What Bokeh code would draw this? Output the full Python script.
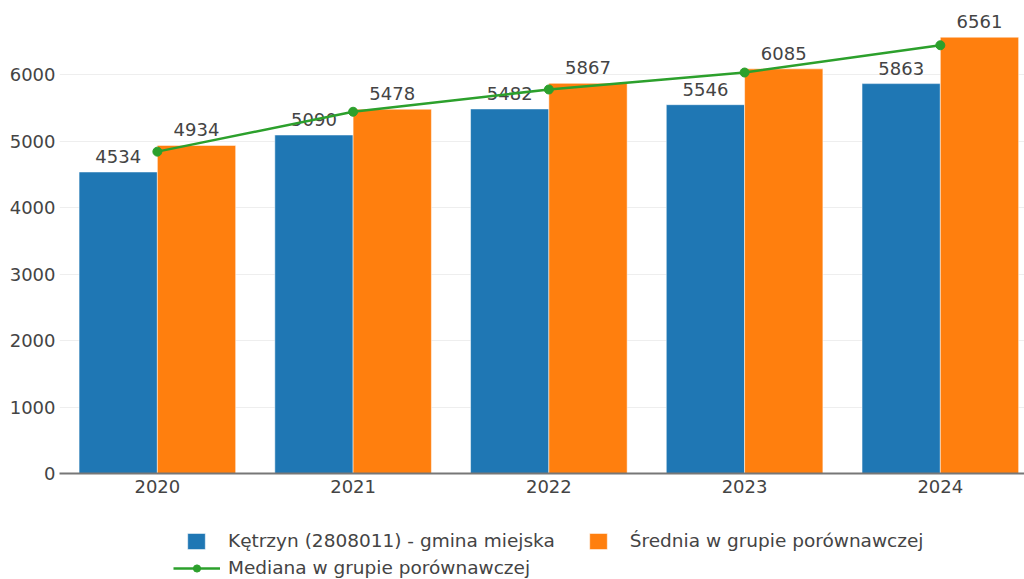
from bokeh.plotting import figure
from bokeh.models import ColumnDataSource, Range1d, FixedTicker, Legend, LegendItem
from bokeh.layouts import column
from bokeh.transform import dodge
from bokeh.core.properties import value
from bokeh.embed import file_html
from bokeh.resources import INLINE

years = [2020, 2021, 2022, 2023, 2024]
ketrzyn = [4534, 5090, 5482, 5546, 5863]
srednia = [4934, 5478, 5867, 6085, 6561]
mediana = [4840, 5440, 5775, 6030, 6440]
y_ticks = [0, 1000, 2000, 3000, 4000, 5000, 6000]
names = ["Kętrzyn (2808011) - gmina miejska", "Średnia w grupie porównawczej",
         "Mediana w grupie porównawczej"]

FONT = "DejaVu Sans"
TXT = "#444444"
BLUE, ORANGE, GREEN = "#1f77b4", "#ff7f0e", "#2ca02c"

src = ColumnDataSource(dict(
    year=years, ketrzyn=ketrzyn, srednia=srednia, mediana=mediana,
    kl=[str(v) for v in ketrzyn], sl=[str(v) for v in srednia],
))

p = figure(width=1024, height=503, output_backend="svg", toolbar_location=None,
           x_range=Range1d(2019.5, 2024.43), y_range=Range1d(0, 7113),
           min_border_left=59, min_border_right=0, min_border_top=0, min_border_bottom=30)
p.outline_line_color = None

p.vbar(x=dodge("year", -0.2, range=p.x_range), top="ketrzyn", width=0.4, source=src,
       fill_color=BLUE, line_color="white", line_width=0.5)
p.vbar(x=dodge("year", 0.2, range=p.x_range), top="srednia", width=0.4, source=src,
       fill_color=ORANGE, line_color="white", line_width=0.5)

p.text(x=dodge("year", -0.2, range=p.x_range), y="ketrzyn", text="kl", source=src,
       text_align="center", text_baseline="bottom", y_offset=-9,
       text_font=value(FONT), text_font_size="18px", text_color=TXT)
p.text(x=dodge("year", 0.2, range=p.x_range), y="srednia", text="sl", source=src,
       text_align="center", text_baseline="bottom", y_offset=-9,
       text_font=value(FONT), text_font_size="18px", text_color=TXT)

p.line(x="year", y="mediana", source=src, line_color=GREEN, line_width=2.5)
p.scatter(x="year", y="mediana", source=src, size=9, fill_color=GREEN, line_color=GREEN)

p.xgrid.visible = False
p.ygrid.grid_line_color = "#eeeeee"
p.ygrid.ticker = FixedTicker(ticks=y_ticks)

p.yaxis.ticker = FixedTicker(ticks=y_ticks)
p.yaxis.axis_line_color = None
p.yaxis.major_tick_line_color = None
p.yaxis.minor_tick_line_color = None
p.yaxis.major_tick_out = 0
p.yaxis.major_label_standoff = 4
p.yaxis.major_label_text_font = FONT
p.yaxis.major_label_text_font_size = "18px"
p.yaxis.major_label_text_color = TXT

p.xaxis.ticker = FixedTicker(ticks=years)
p.xaxis.axis_line_color = "#777777"
p.xaxis.axis_line_width = 2
p.xaxis.major_tick_line_color = None
p.xaxis.minor_tick_line_color = None
p.xaxis.major_tick_out = 0
p.xaxis.major_tick_in = 0
p.xaxis.major_label_standoff = 6
p.xaxis.major_label_text_font = FONT
p.xaxis.major_label_text_font_size = "18px"
p.xaxis.major_label_text_color = TXT

# legend strip under the chart (its renderers use the same data, out of this strip's view)
lf = figure(width=1024, height=76, output_backend="svg", toolbar_location=None,
            x_range=Range1d(0, 1), y_range=Range1d(0, 1),
            min_border_left=59, min_border_right=0, min_border_top=0, min_border_bottom=0,
            x_axis_location=None, y_axis_location=None)
lf.outline_line_color = None
lf.grid.visible = False
lb = lf.vbar(x="year", top="ketrzyn", width=0.4, source=src, fill_color=BLUE,
             line_color="white", line_width=0.5)
lo = lf.vbar(x="year", top="srednia", width=0.4, source=src, fill_color=ORANGE,
             line_color="white", line_width=0.5)
ll = lf.line(x="year", y="mediana", source=src, line_color=GREEN, line_width=2.5)
ls = lf.scatter(x="year", y="mediana", source=src, size=9, fill_color=GREEN, line_color=GREEN)

common = dict(orientation="horizontal", padding=0, margin=0, border_line_alpha=0,
              background_fill_alpha=0, label_text_font=FONT, label_text_font_size="18.5px",
              label_text_color=TXT, label_height=18)
lg1 = Legend(items=[LegendItem(label=names[0], renderers=[lb]),
                    LegendItem(label=names[1], renderers=[lo])],
             location=(126, 28), glyph_width=22, glyph_height=20, label_standoff=21,
             spacing=32, **common)
lg2 = Legend(items=[LegendItem(label=names[2], renderers=[ll, ls])],
             location=(114, 1), glyph_width=47, glyph_height=18, label_standoff=8,
             spacing=0, **common)
lf.add_layout(lg1)
lf.add_layout(lg2)

open("out.html", "w").write(file_html(column(p, lf), INLINE))
